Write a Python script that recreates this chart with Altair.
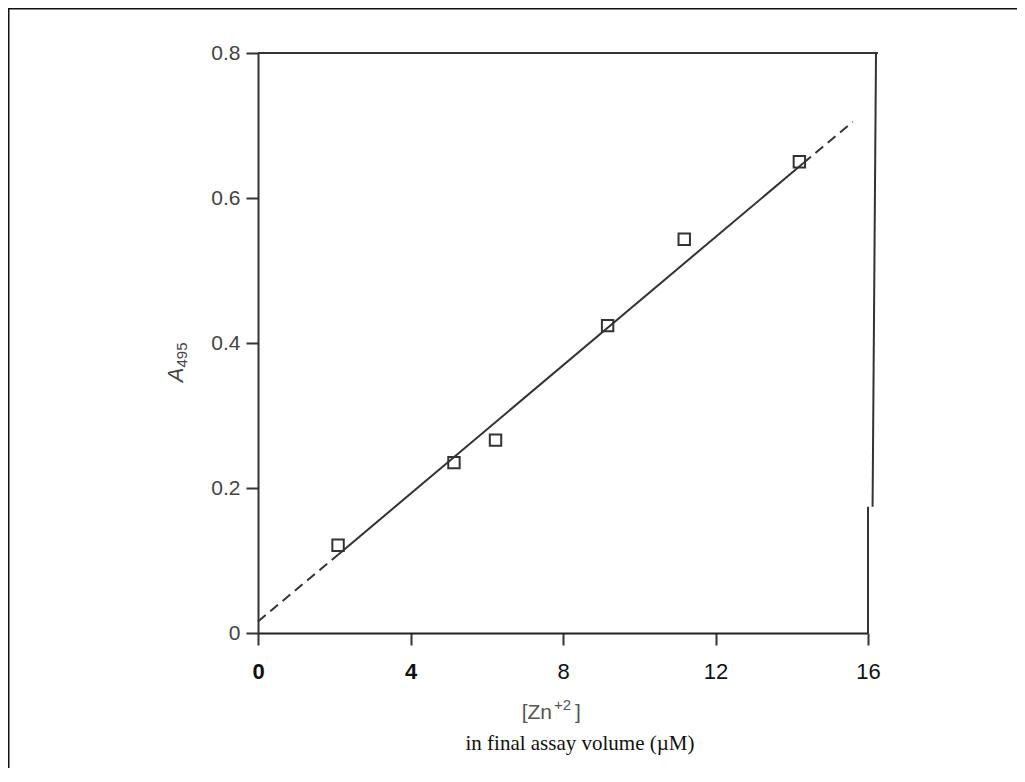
import altair as alt
import pandas as pd

# ---- data ----
zn = [2.10, 5.14, 6.23, 9.17, 11.18, 14.20]          # [Zn+2] (µM)
a495 = [0.121, 0.235, 0.266, 0.424, 0.543, 0.650]    # absorbance at 495 nm
fit_x = [0.0, 2.1, 14.3, 15.6]                        # fitted line break points
fit_y = [0.016, 0.108, 0.648, 0.705]
x_ticks = [0, 4, 8, 12, 16]
y_ticks = [0, 0.2, 0.4, 0.6, 0.8]
# plot frame (top / right border of the scanned figure)
frame_x = [0.0, 16.21, 16.0]
frame_x2 = [16.26, 16.12, 16.0]
frame_y = [0.8, 0.8, 0.174]
frame_y2 = [0.8, 0.174, 0.0]

pts = pd.DataFrame({"zn": zn, "a": a495})
solid = pd.DataFrame({"zn": fit_x[1:3], "a": fit_y[1:3]})
dashed = pd.DataFrame({
    "zn": [fit_x[0], fit_x[1], fit_x[2], fit_x[3]],
    "a": [fit_y[0], fit_y[1], fit_y[2], fit_y[3]],
    "seg": [0, 0, 1, 1],
})
frame = pd.DataFrame({"zn": frame_x, "zn2": frame_x2, "a": frame_y, "a2": frame_y2})

INK = "#333333"

xs = alt.Scale(domain=[0, 16], nice=False, zero=False)
ys = alt.Scale(domain=[0, 0.8], nice=False)

X = alt.X("zn:Q", scale=xs, axis=alt.Axis(
    values=x_ticks, title=None, grid=False,
    labelFontSize=22, labelColor="#111111", labelFont="Liberation Sans",
    labelFontWeight={"expr": "datum.value <= 4 ? 'bold' : 'normal'"},
    labelPadding=16, tickSize=12, tickWidth=2, tickColor=INK,
    domainColor="#222222", domainWidth=2, labelFlush=False))
Y = alt.Y("a:Q", scale=ys, axis=alt.Axis(
    values=y_ticks, title=None, grid=False,
    labelFontSize=21, labelColor="#444444", labelFont="Liberation Sans",
    labelExpr="datum.value == 0 ? '0' : format(datum.value, '.1f')",
    labelPadding=6, tickSize=12, tickWidth=2, tickColor=INK,
    domainColor=INK, domainWidth=2, labelFlush=False))

border = alt.Chart(frame).mark_rule(color=INK, strokeWidth=2).encode(
    x=X, x2="zn2:Q", y=Y, y2="a2:Q")

solid_line = alt.Chart(solid).mark_line(color=INK, strokeWidth=2).encode(x=X, y=Y)
dashed_line = alt.Chart(dashed).mark_line(color=INK, strokeWidth=2, strokeDash=[10, 6]).encode(
    x=X, y=Y, detail="seg:N")

points = alt.Chart(pts).mark_point(shape="square", size=130, filled=False,
                                   color=INK, strokeWidth=2, opacity=1).encode(x=X, y=Y)


def label(text, x, y, **kw):
    return alt.Chart(alt.Data(values=[{"t": text}])).mark_text(**kw).encode(
        text="t:N", x=alt.value(x), y=alt.value(y))


# y-axis title  A_495 (rotated)
ya = label("A", -82, 322, angle=270, fontSize=22, fontStyle="italic",
           font="Liberation Sans", color="#444444", align="center", baseline="middle")
ysub = label("495", -76, 302, angle=270, fontSize=15, font="Liberation Sans",
             color="#444444", align="center", baseline="middle")

# x-axis title  [Zn+2] / in final assay volume (µM)
zn1 = label("[Zn", 294, 666, fontSize=21, font="Liberation Sans", color="#555555",
            align="right", baseline="alphabetic")
zn2 = label("+2", 296, 657, fontSize=15, font="Liberation Sans", color="#555555",
            align="left", baseline="alphabetic")
zn3 = label("]", 317, 666, fontSize=21, font="Liberation Sans", color="#555555",
            align="left", baseline="alphabetic")
sub = label("in final assay volume (\u00b5M)", 322, 697, fontSize=21,
            font="Liberation Serif", color="#111111", align="center", baseline="alphabetic")

# outer frame of the figure
outer_top = alt.Chart(alt.Data(values=[{}])).mark_rule(color="#111111", strokeWidth=2).encode(
    x=alt.value(-250), x2=alt.value(759), y=alt.value(-44.5))
outer_left = alt.Chart(alt.Data(values=[{}])).mark_rule(color="#111111", strokeWidth=2).encode(
    x=alt.value(-249.5), y=alt.value(-45), y2=alt.value(730))

chart = alt.layer(
    outer_top, outer_left, border, dashed_line, solid_line, points,
    ya, ysub, zn1, zn2, zn3, sub,
).properties(
    width=610, height=580,
    padding={"left": 250, "top": 45, "right": 149, "bottom": 135},
    autosize=alt.AutoSizeParams(type="none"),
    background="white",
).configure_view(stroke=None)

chart.save("out.html", embed_options={"renderer": "svg", "actions": False})
